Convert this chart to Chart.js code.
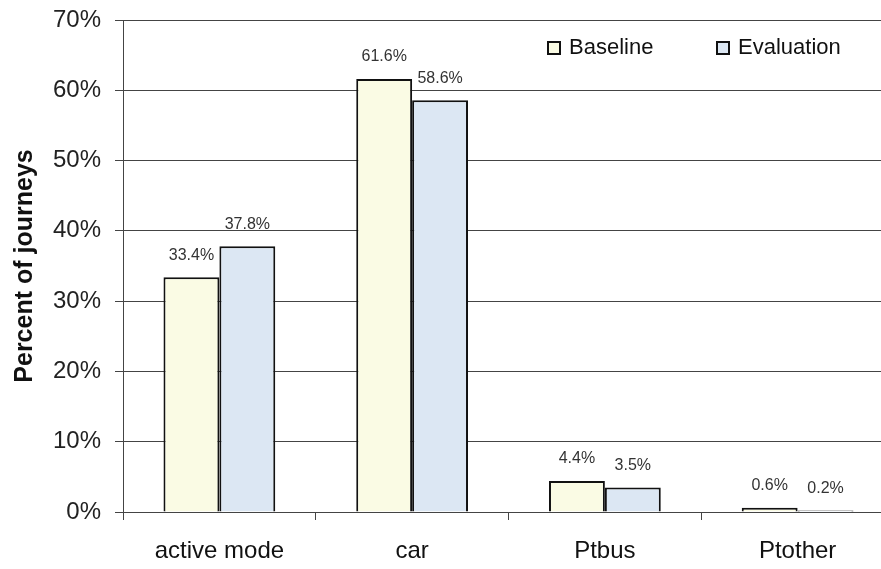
<!DOCTYPE html>
<html>
<head>
<meta charset="utf-8">
<script src="https://cdn.jsdelivr.net/npm/chart.js@4"></script>
<style>
  html, body { margin: 0; padding: 0; background: #fff; }
  #wrap { width: 881px; height: 569px; overflow: hidden; }
</style>
</head>
<body>
<div id="wrap"><canvas id="myChart" width="900" height="569"></canvas></div>
<script>
const categories = ['active mode', 'car', 'Ptbus', 'Ptother'];
const baseline = [33.4, 61.6, 4.4, 0.6];
const evaluation = [37.8, 58.6, 3.5, 0.2];
const seriesNames = ['Baseline', 'Evaluation'];
const yTicks = [0, 10, 20, 30, 40, 50, 60, 70];

const FONT = "'Liberation Sans', Arial, sans-serif";

// value labels above each bar
const barLabels = {
    id: 'barLabels',
    afterDatasetsDraw(chart) {
        const ctx = chart.ctx;
        ctx.save();
        ctx.font = '16px ' + FONT;
        ctx.fillStyle = '#333';
        ctx.textAlign = 'center';
        ctx.textBaseline = 'middle';
        chart.data.datasets.forEach((ds, i) => {
            chart.getDatasetMeta(i).data.forEach((bar, j) => {
                ctx.fillText(ds.data[j].toFixed(1) + '%', bar.x, bar.y - 22);
            });
        });
        ctx.restore();
    }
};

// legend drawn inside the plot, top right
const boxLegend = {
    id: 'boxLegend',
    afterDraw(chart) {
        const ctx = chart.ctx;
        const area = chart.chartArea;
        const xs = [area.left + 425, area.left + 594];
        const y = area.top + 28;
        ctx.save();
        ctx.font = '22px ' + FONT;
        ctx.textBaseline = 'middle';
        chart.data.datasets.forEach((ds, i) => {
            ctx.fillStyle = ds.backgroundColor;
            ctx.fillRect(xs[i], y - 6, 12, 12);
            ctx.strokeStyle = '#111';
            ctx.lineWidth = 2;
            ctx.strokeRect(xs[i], y - 6, 12, 12);
            ctx.fillStyle = '#111';
            ctx.fillText(ds.label, xs[i] + 21, y);
        });
        ctx.restore();
    }
};

const options = {
    type: 'bar',
    data: {
        labels: categories,
        datasets: [{
            label: seriesNames[0],
            data: baseline,
            backgroundColor: '#fafbe4',
            borderColor: '#111',
            borderWidth: 2
        }, {
            label: seriesNames[1],
            data: evaluation,
            backgroundColor: '#dce7f3',
            borderColor: '#111',
            borderWidth: 2
        }]
    },
    options: {
        responsive: false,
        animation: false,
        layout: { padding: { left: 0, right: 6, top: 20, bottom: 3 } },
        datasets: {
            bar: { categoryPercentage: 0.58, barPercentage: 1.0 }
        },
        plugins: {
            legend: { display: false },
            tooltip: { enabled: false }
        },
        scales: {
            x: {
                afterFit(scale) {
                    scale.height = 54;
                    scale.paddingLeft = 0;
                    scale.paddingRight = 0;
                },
                grid: { display: true, drawOnChartArea: false, offset: true, tickLength: 8, color: '#444' },
                border: { color: '#444', width: 1 },
                ticks: { color: '#111', font: { family: FONT, size: 24 }, padding: 17 }
            },
            y: {
                min: 0,
                max: 70,
                afterBuildTicks(scale) {
                    scale.ticks = yTicks.map(v => ({ value: v }));
                },
                afterFit(scale) {
                    scale.width = 123;
                    scale.paddingTop = 0;
                    scale.paddingBottom = 0;
                },
                grid: { color: '#444', lineWidth: 1, tickLength: 8 },
                border: { color: '#444', width: 1 },
                ticks: {
                    color: '#222',
                    font: { family: FONT, size: 24 },
                    padding: 14,
                    callback: v => v + '%'
                },
                title: {
                    display: true,
                    text: 'Percent of journeys',
                    color: '#111',
                    font: { family: FONT, size: 25, weight: 'bold' },
                    padding: { top: 10, bottom: 0 }
                }
            }
        }
    },
    plugins: [barLabels, boxLegend]
};

new Chart(document.getElementById('myChart'), options);
</script>
</body>
</html>
